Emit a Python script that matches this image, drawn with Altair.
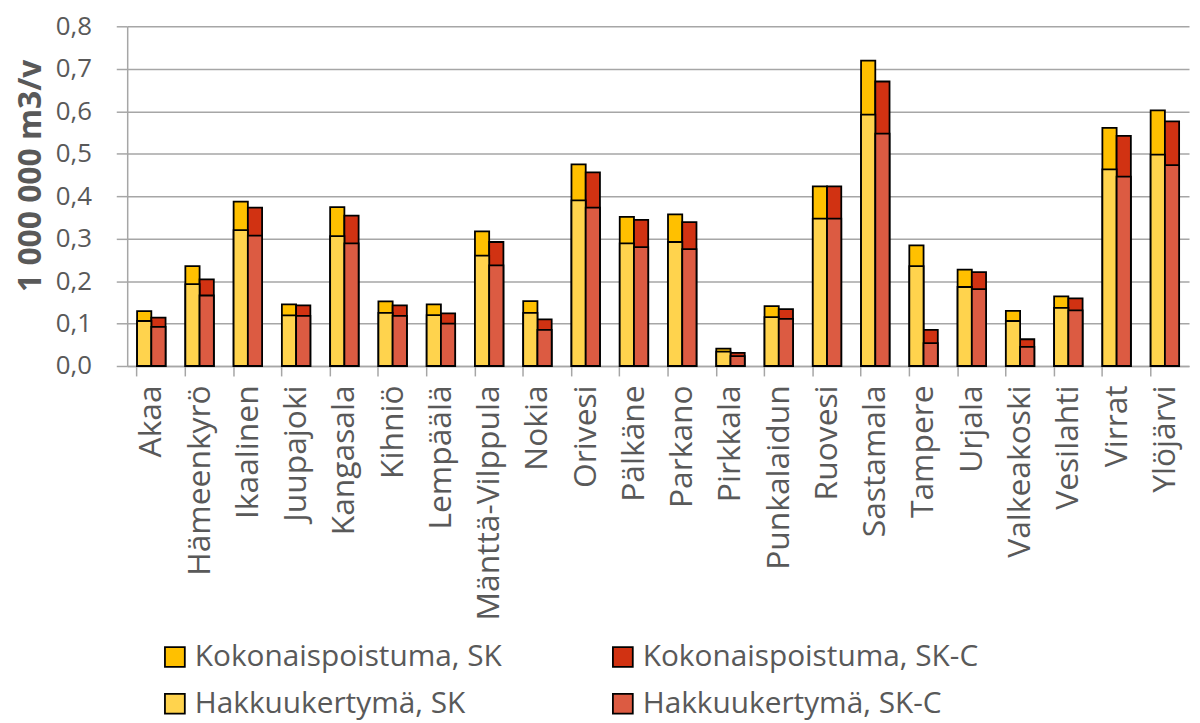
import altair as alt
import pandas as pd

kunnat = ["Akaa", "Hämeenkyrö", "Ikaalinen", "Juupajoki", "Kangasala", "Kihniö", "Lempäälä",
          "Mänttä-Vilppula", "Nokia", "Orivesi", "Pälkäne", "Parkano", "Pirkkala", "Punkalaidun",
          "Ruovesi", "Sastamala", "Tampere", "Urjala", "Valkeakoski", "Vesilahti", "Virrat", "Ylöjärvi"]

kok_sk = [0.129, 0.235, 0.387, 0.145, 0.374, 0.152, 0.145, 0.317, 0.153, 0.475, 0.351,
          0.357, 0.041, 0.141, 0.423, 0.719, 0.284, 0.227, 0.130, 0.164, 0.561, 0.602]
hak_sk = [0.106, 0.193, 0.320, 0.119, 0.306, 0.125, 0.120, 0.260, 0.125, 0.390, 0.289,
          0.292, 0.034, 0.115, 0.347, 0.592, 0.235, 0.186, 0.106, 0.137, 0.463, 0.498]
kok_skc = [0.114, 0.204, 0.373, 0.143, 0.354, 0.143, 0.124, 0.292, 0.110, 0.456, 0.344,
           0.339, 0.031, 0.134, 0.423, 0.670, 0.085, 0.221, 0.063, 0.159, 0.542, 0.576]
hak_skc = [0.092, 0.166, 0.307, 0.118, 0.289, 0.118, 0.100, 0.237, 0.085, 0.373, 0.280,
           0.275, 0.023, 0.111, 0.347, 0.547, 0.054, 0.181, 0.045, 0.131, 0.446, 0.473]

# legend order (column-major): Kok SK, Hak SK | Kok SK-C, Hak SK-C
sarjat = ["Kokonaispoistuma, SK", "Hakkuukertymä, SK", "Kokonaispoistuma, SK-C", "Hakkuukertymä, SK-C"]
varit = ["#FFC000", "#FFD34D", "#D13212", "#DC5B42"]

rows = []
for i, k in enumerate(kunnat):
    rows.append(dict(kunta=k, skenaario="SK", sarja=sarjat[0], alku=0.0, loppu=kok_sk[i], jarj=0))
    rows.append(dict(kunta=k, skenaario="SK-C", sarja=sarjat[2], alku=0.0, loppu=kok_skc[i], jarj=0))
    rows.append(dict(kunta=k, skenaario="SK", sarja=sarjat[1], alku=0.0, loppu=hak_sk[i], jarj=1))
    rows.append(dict(kunta=k, skenaario="SK-C", sarja=sarjat[3], alku=0.0, loppu=hak_skc[i], jarj=1))
df = pd.DataFrame(rows)

FONT = "Open Sans"
TXT = "#595959"
GRID = "#A6A6A6"

chart = alt.Chart(df).mark_bar(stroke="black", strokeWidth=1.8).encode(
    x=alt.X("kunta:N", sort=kunnat,
            scale=alt.Scale(paddingInner=0.41, paddingOuter=0.205),
            axis=alt.Axis(title=None, labelAngle=270, labelAlign="right", labelBaseline="middle",
                          labelFont=FONT, labelFontSize=32, labelColor=TXT, labelPadding=9,
                          labelLimit=400, labelOverlap=False,
                          bandPosition=0, tickSize=10, tickColor=GRID, tickWidth=1.5,
                          domainColor=GRID, domainWidth=1.5, grid=False)),
    xOffset=alt.XOffset("skenaario:N", sort=["SK", "SK-C"], scale=alt.Scale(paddingInner=0, paddingOuter=0)),
    y=alt.Y("loppu:Q", scale=alt.Scale(domain=[0, 0.8], nice=False),
            axis=alt.Axis(title="1 000 000 m3/v", values=[0, 0.1, 0.2, 0.3, 0.4, 0.5, 0.6, 0.7, 0.8],
                          labelExpr="replace(format(datum.value, '.1f'), '.', ',')",
                          labelFont=FONT, labelFontSize=26, labelColor=TXT, labelPadding=25,
                          tickSize=11, tickColor=GRID, tickWidth=1.5,
                          domainColor=GRID, domainWidth=1.5,
                          gridColor=GRID, gridWidth=1.5,
                          titleFont=FONT, titleFontSize=32, titleFontWeight="bold", titleColor=TXT,
                          titleAngle=270, titleX=-97, titleY=150, titleAlign="center",
                          titleBaseline="middle")),
    y2="alku:Q",
    order=alt.Order("jarj:Q"),
    color=alt.Color("sarja:N", scale=alt.Scale(domain=sarjat, range=varit),
                    legend=alt.Legend(title=None, orient="none", legendX=33, legendY=620,
                                      columns=2, columnPadding=106, rowPadding=17,
                                      symbolType="square", symbolSize=400, symbolStrokeColor="black",
                                      symbolStrokeWidth=1.8, symbolOffset=0,
                                      labelFont=FONT, labelFontSize=30, labelColor=TXT,
                                      labelOffset=5, labelLimit=500)),
).properties(
    width=1069, height=342,
    autosize=alt.AutoSizeParams(type="none"),
    padding={"left": 120, "top": 16, "right": 3, "bottom": 357},
).configure_view(stroke=None)

chart.save("out.html", embed_options={"renderer": "svg", "actions": False})
